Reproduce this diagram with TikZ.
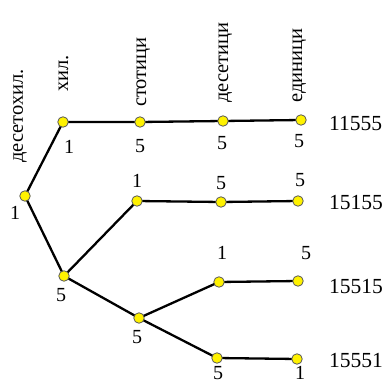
\documentclass[tikz,border=0pt]{standalone}
\usepackage{fontspec}
\setmainfont{Liberation Serif}
\newfontfamily\treefont{Liberation Serif}
\begin{document}
\begin{tikzpicture}[x=1pt,y=-1pt,
  vert/.style={circle,draw=black!65,fill=yellow,line width=0.8pt,minimum size=10.5pt,inner sep=0pt},
  edge/.style={line width=2.3pt,black},
  digit/.style={inner sep=0pt,font=\treefont\fontsize{20}{22}\selectfont},
  head/.style={inner sep=0pt,rotate=90,anchor=base west,font=\treefont\fontsize{20.5}{22}\selectfont},
  result/.style={inner sep=0pt,anchor=west,font=\treefont\fontsize{21.5}{24}\selectfont}]
\useasboundingbox (0,0) rectangle (388,382);

% column headers
\node[head] (h0) at (23,163) {десетохил.};
\node[head] (h1) at (68,92) {хил.};
\node[head] (h2) at (146,107) {стотици};
\node[head] (h3) at (228,103) {десетици};
\node[head] (h4) at (302,103) {единици};

% tree vertices
\coordinate (pr) at (25,196);
\coordinate (pa) at (63,122);
\coordinate (pb) at (64,276);
\coordinate (pa2) at (140,122);
\coordinate (pa3) at (223,121);
\coordinate (pa4) at (301,120);
\coordinate (pc) at (137,201);
\coordinate (pc3) at (221,202);
\coordinate (pc4) at (298,201);
\coordinate (pd) at (139,318);
\coordinate (pe3) at (219,282);
\coordinate (pe4) at (298,281);
\coordinate (pf3) at (217,358);
\coordinate (pf4) at (297,359);

% edges
\draw[edge] (pr) -- (pa) -- (pa2) -- (pa3) -- (pa4);
\draw[edge] (pr) -- (pb) -- (pc) -- (pc3) -- (pc4);
\draw[edge] (pb) -- (pd) -- (pe3) -- (pe4);
\draw[edge] (pd) -- (pf3) -- (pf4);

\foreach \p in {pr,pa,pb,pa2,pa3,pa4,pc,pc3,pc4,pd,pe3,pe4,pf3,pf4}
  \node[vert] (v\p) at (\p) {};

% digit labels
\node[digit] (lr) at (15,213) {1};
\node[digit] (la) at (69,147) {1};
\node[digit] (la2) at (140,146) {5};
\node[digit] (la3) at (222,143) {5};
\node[digit] (la4) at (299,141) {5};
\node[digit] (lc) at (137,181) {1};
\node[digit] (lc3) at (221,183) {5};
\node[digit] (lc4) at (300,180) {5};
\node[digit] (lb) at (61,295) {5};
\node[digit] (ld) at (137,337) {5};
\node[digit] (le3) at (222,253) {1};
\node[digit] (le4) at (306,253) {5};
\node[digit] (lf3) at (218,373) {5};
\node[digit] (lf4) at (300,373) {1};

% resulting numbers
\node[result] (r1) at (329,123.5) {11555};
\node[result] (r2) at (329,202.5) {15155};
\node[result] (r3) at (329,286.5) {15515};
\node[result] (r4) at (329,360.5) {15551};
\end{tikzpicture}
\end{document}
